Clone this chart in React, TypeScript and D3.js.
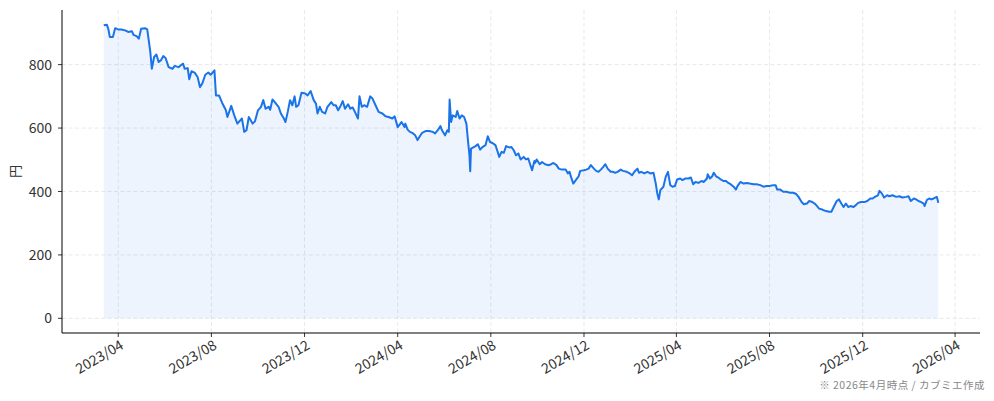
import React from "react";
import * as d3 from "d3";

const dates: string[] = [
  "2023-03-13","2023-03-17","2023-03-19","2023-03-21","2023-03-25","2023-03-28","2023-04-01","2023-04-05","2023-04-10","2023-04-14",
  "2023-04-19","2023-04-21","2023-04-25","2023-04-28","2023-05-01","2023-05-06","2023-05-09","2023-05-13","2023-05-15","2023-05-18",
  "2023-05-21","2023-05-24","2023-05-27","2023-05-30","2023-06-02","2023-06-06","2023-06-11","2023-06-14","2023-06-19","2023-06-22",
  "2023-06-25","2023-06-27","2023-07-01","2023-07-03","2023-07-06","2023-07-10","2023-07-14","2023-07-17","2023-07-20","2023-07-24",
  "2023-07-28","2023-07-31","2023-08-05","2023-08-07","2023-08-11","2023-08-15","2023-08-20","2023-08-22","2023-08-27","2023-08-31",
  "2023-09-04","2023-09-10","2023-09-13","2023-09-16","2023-09-19","2023-09-24","2023-09-27","2023-10-01","2023-10-05","2023-10-08",
  "2023-10-11","2023-10-15","2023-10-17","2023-10-20","2023-10-23","2023-10-28","2023-10-31","2023-11-04","2023-11-06","2023-11-09",
  "2023-11-12","2023-11-15","2023-11-18","2023-11-20","2023-11-23","2023-11-27","2023-12-02","2023-12-05","2023-12-09","2023-12-13",
  "2023-12-16","2023-12-18","2023-12-21","2023-12-24","2023-12-28","2023-12-31","2024-01-05","2024-01-08","2024-01-11","2024-01-14",
  "2024-01-17","2024-01-20","2024-01-23","2024-01-27","2024-01-30","2024-02-02","2024-02-05","2024-02-09","2024-02-11","2024-02-14",
  "2024-02-17","2024-02-21","2024-02-25","2024-02-28","2024-03-03","2024-03-07","2024-03-12","2024-03-16","2024-03-20","2024-03-25",
  "2024-03-28","2024-04-01","2024-04-06","2024-04-10","2024-04-11","2024-04-14","2024-04-17","2024-04-20","2024-04-24","2024-04-27",
  "2024-04-30","2024-05-03","2024-05-08","2024-05-12","2024-05-17","2024-05-20","2024-05-24","2024-05-27","2024-05-29","2024-06-02",
  "2024-06-05","2024-06-07","2024-06-08","2024-06-10","2024-06-12","2024-06-16","2024-06-18","2024-06-21","2024-06-24","2024-06-27",
  "2024-06-30","2024-07-02","2024-07-04","2024-07-05","2024-07-06","2024-07-09","2024-07-12","2024-07-15","2024-07-18","2024-07-21",
  "2024-07-25","2024-07-28","2024-07-31","2024-08-03","2024-08-07","2024-08-10","2024-08-12","2024-08-15","2024-08-18","2024-08-21",
  "2024-08-25","2024-08-28","2024-08-31","2024-09-03","2024-09-06","2024-09-09","2024-09-13","2024-09-16","2024-09-19","2024-09-24",
  "2024-09-27","2024-09-28","2024-09-30","2024-10-04","2024-10-07","2024-10-11","2024-10-16","2024-10-19","2024-10-22","2024-10-26",
  "2024-10-29","2024-11-02","2024-11-07","2024-11-10","2024-11-12","2024-11-14","2024-11-17","2024-11-21","2024-11-24","2024-11-26",
  "2024-12-01","2024-12-04","2024-12-07","2024-12-10","2024-12-14","2024-12-17","2024-12-20","2024-12-23","2024-12-26","2024-12-29",
  "2025-01-01","2025-01-05","2025-01-08","2025-01-11","2025-01-14","2025-01-18","2025-01-21","2025-01-26","2025-01-30","2025-02-02",
  "2025-02-05","2025-02-09","2025-02-11","2025-02-14","2025-02-18","2025-02-22","2025-02-26","2025-03-02","2025-03-05","2025-03-07",
  "2025-03-09","2025-03-11","2025-03-15","2025-03-18","2025-03-21","2025-03-24","2025-03-27","2025-03-30","2025-04-02","2025-04-06",
  "2025-04-09","2025-04-13","2025-04-17","2025-04-20","2025-04-23","2025-04-26","2025-04-30","2025-05-04","2025-05-07","2025-05-11",
  "2025-05-12","2025-05-15","2025-05-18","2025-05-20","2025-05-23","2025-05-26","2025-05-29","2025-06-02","2025-06-05","2025-06-08",
  "2025-06-11","2025-06-15","2025-06-18","2025-06-20","2025-06-24","2025-06-28","2025-07-02","2025-07-06","2025-07-11","2025-07-15",
  "2025-07-20","2025-07-24","2025-07-28","2025-08-01","2025-08-06","2025-08-09","2025-08-11","2025-08-15","2025-08-19","2025-08-23",
  "2025-08-28","2025-09-01","2025-09-05","2025-09-08","2025-09-12","2025-09-15","2025-09-19","2025-09-22","2025-09-26","2025-09-30",
  "2025-10-05","2025-10-09","2025-10-13","2025-10-18","2025-10-21","2025-10-24","2025-10-28","2025-10-31","2025-11-03","2025-11-06",
  "2025-11-09","2025-11-12","2025-11-15","2025-11-19","2025-11-22","2025-11-25","2025-11-29","2025-12-04","2025-12-07","2025-12-11",
  "2025-12-14","2025-12-17","2025-12-21","2025-12-23","2025-12-26","2025-12-29","2026-01-02","2026-01-05","2026-01-09","2026-01-14",
  "2026-01-18","2026-01-22","2026-01-27","2026-01-30","2026-02-02","2026-02-06","2026-02-09","2026-02-12","2026-02-15","2026-02-19",
  "2026-02-20","2026-02-23","2026-02-26","2026-03-01","2026-03-04","2026-03-08","2026-03-09","2026-03-10"
];

const prices: number[] = [
  924,926,913,887,887,915,911,911,908,903,
  905,894,890,882,913,915,911,840,787,824,
  832,808,814,827,821,792,787,796,792,798,
  803,787,789,754,779,775,761,729,740,768,
  775,768,782,703,703,680,656,635,670,640,
  614,630,588,593,635,614,621,656,667,688,
  661,667,658,690,682,667,646,630,619,651,
  688,672,700,667,672,711,709,703,717,688,
  677,646,667,651,646,667,682,672,672,656,
  669,685,661,675,661,665,651,630,700,667,
  672,667,700,693,672,651,646,637,635,630,
  637,603,619,603,614,595,588,585,577,562,
  574,585,591,591,588,583,595,606,593,577,
  593,588,690,619,640,635,654,630,640,635,
  614,562,514,464,535,539,543,549,532,540,
  546,574,556,553,546,525,509,525,522,543,
  539,540,530,514,520,501,509,501,504,467,
  496,490,501,486,493,486,483,486,490,483,
  472,469,469,457,462,446,425,438,448,465,
  467,469,472,483,472,465,462,469,477,486,
  472,462,462,459,462,469,465,462,457,451,
  462,472,459,462,457,462,457,459,425,394,
  375,404,415,446,462,420,415,417,438,441,
  436,441,441,444,423,430,427,433,430,441,
  454,441,448,459,448,444,438,433,433,427,
  423,415,406,417,430,425,427,425,423,423,
  420,415,417,417,420,420,406,406,399,399,
  396,396,392,383,367,360,362,370,367,360,
  346,343,339,336,336,351,370,375,362,351,
  362,351,354,351,357,364,367,367,370,378,
  378,383,388,402,394,381,388,385,388,383,
  385,381,383,385,370,378,375,370,367,362,
  354,373,378,375,378,383,375,364
];

const xTickDates: string[] = [
  "2023-04-01","2023-08-01","2023-12-01","2024-04-01","2024-08-01",
  "2024-12-01","2025-04-01","2025-08-01","2025-12-01","2026-04-01"
];
const yTicks: number[] = [0, 200, 400, 600, 800];
const yLabel = "円";
const footnote = "※ 2026年4月時点 / カブミエ作成";

const W = 994;
const H = 401;
const M = { left: 62, right: 14, top: 10, bottom: 68 };
const FONT = "'Noto Sans CJK JP', 'Noto Sans', sans-serif";

export default function App() {
  const parse = d3.timeParse("%Y-%m-%d");
  const data = dates.map((d, i) => ({ date: parse(d) as Date, v: prices[i] }));
  const x0 = data[0].date.getTime();
  const x1 = data[data.length - 1].date.getTime();
  const xPad = (x1 - x0) * 0.05;
  const x = d3
    .scaleTime()
    .domain([new Date(x0 - xPad), new Date(x1 + xPad)])
    .range([M.left, W - M.right]);
  const vMax = d3.max(prices) as number;
  const yPad = vMax * 0.05;
  const y = d3
    .scaleLinear()
    .domain([-yPad, vMax + yPad])
    .range([H - M.bottom, M.top]);

  const line = d3
    .line<{ date: Date; v: number }>()
    .x((d) => x(d.date))
    .y((d) => y(d.v));
  const area = d3
    .area<{ date: Date; v: number }>()
    .x((d) => x(d.date))
    .y0(y(0))
    .y1((d) => y(d.v));

  const xt = xTickDates.map((d) => parse(d) as Date);
  const fmt = d3.timeFormat("%Y/%m");
  const bottom = H - M.bottom;
  const gridColor = "#dfe3e8";
  const textColor = "#333";

  return (
    <div style={{ position: "absolute", left: 0, top: 0 }}>
      <svg width={W} height={H} style={{ display: "block", background: "#fff" }}>
        {/* grid */}
        {xt.map((d, i) => (
          <line
            key={"gx" + i}
            x1={x(d)}
            x2={x(d)}
            y1={M.top}
            y2={bottom}
            stroke={gridColor}
            strokeWidth={0.8}
            strokeDasharray="4,2.5"
          />
        ))}
        {yTicks.map((t, i) => (
          <line
            key={"gy" + i}
            x1={M.left}
            x2={W - M.right}
            y1={y(t)}
            y2={y(t)}
            stroke={gridColor}
            strokeWidth={0.8}
            strokeDasharray="4,2.5"
          />
        ))}
        {/* area + line */}
        <path d={area(data) as string} fill="#1a73e8" fillOpacity={0.08} />
        <path
          d={line(data) as string}
          fill="none"
          stroke="#1a73e8"
          strokeWidth={2}
          strokeLinejoin="round"
        />
        {/* spines */}
        <line x1={M.left} x2={M.left} y1={M.top} y2={bottom} stroke="#000" strokeWidth={1} />
        <line x1={M.left} x2={W - M.right} y1={bottom} y2={bottom} stroke="#000" strokeWidth={1} />
        {/* y ticks */}
        {yTicks.map((t, i) => (
          <g key={"yt" + i}>
            <line x1={M.left - 4} x2={M.left} y1={y(t)} y2={y(t)} stroke="#000" strokeWidth={0.8} />
            <text
              x={M.left - 10}
              y={y(t)}
              dy="0.36em"
              textAnchor="end"
              fontSize={14}
              fontFamily={FONT}
              fill={textColor}
            >
              {t}
            </text>
          </g>
        ))}
        {/* x ticks */}
        {xt.map((d, i) => (
          <g key={"xt" + i}>
            <line x1={x(d)} x2={x(d)} y1={bottom} y2={bottom + 4} stroke="#000" strokeWidth={0.8} />
            <text
              transform={`translate(${x(d) + 1},${bottom + 6}) rotate(-30)`}
              textAnchor="end"
              dy="0.75em"
              fontSize={14}
              fontFamily={FONT}
              fill={textColor}
            >
              {fmt(d)}
            </text>
          </g>
        ))}
        {/* y label */}
        <text
          transform={`translate(20,${(M.top + bottom) / 2}) rotate(-90)`}
          textAnchor="middle"
          fontSize={13}
          fontFamily={FONT}
          fill={textColor}
        >
          {yLabel}
        </text>
        {/* footnote */}
        <text
          x={985}
          y={389}
          textAnchor="end"
          fontSize={10.5}
          letterSpacing={0.5}
          fontFamily={FONT}
          fill="#888"
        >
          {footnote}
        </text>
      </svg>
    </div>
  );
}
